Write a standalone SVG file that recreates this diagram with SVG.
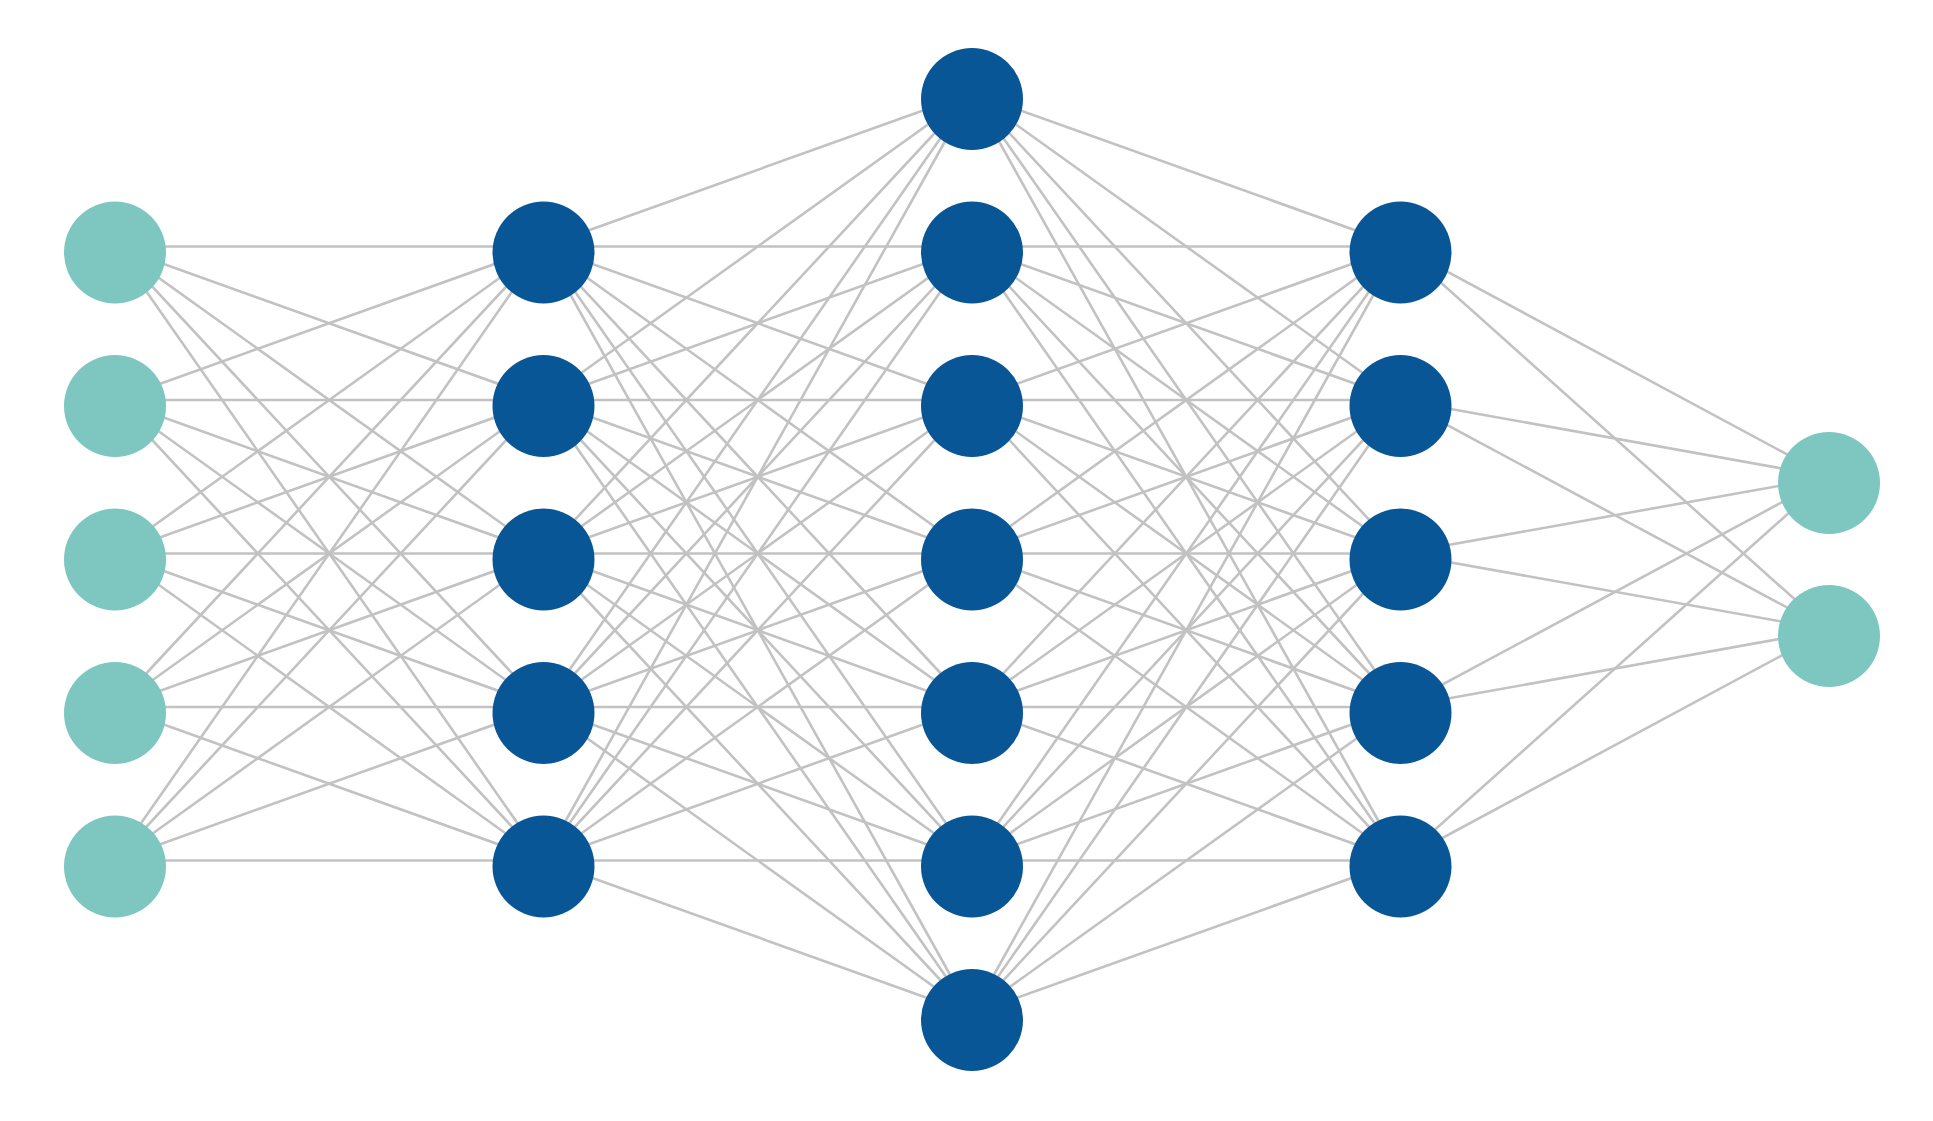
<svg xmlns="http://www.w3.org/2000/svg" width="1933" height="1121" viewBox="0 0 1933 1121">
<style>
.e{stroke:#c2c2c2;stroke-width:2.6;fill:none}
.io{fill:#7dc7c0}
.h{fill:#085696}
</style>
<rect width="1933" height="1121" fill="#ffffff"/>
<g id="connectors" class="e" transform="translate(0,-6)">
<line x1="115" y1="252.5" x2="543.5" y2="252.5"/><line x1="115" y1="252.5" x2="543.5" y2="406"/><line x1="115" y1="252.5" x2="543.5" y2="559.5"/><line x1="115" y1="252.5" x2="543.5" y2="713"/><line x1="115" y1="252.5" x2="543.5" y2="866.5"/>
<line x1="115" y1="406" x2="543.5" y2="252.5"/><line x1="115" y1="406" x2="543.5" y2="406"/><line x1="115" y1="406" x2="543.5" y2="559.5"/><line x1="115" y1="406" x2="543.5" y2="713"/><line x1="115" y1="406" x2="543.5" y2="866.5"/>
<line x1="115" y1="559.5" x2="543.5" y2="252.5"/><line x1="115" y1="559.5" x2="543.5" y2="406"/><line x1="115" y1="559.5" x2="543.5" y2="559.5"/><line x1="115" y1="559.5" x2="543.5" y2="713"/><line x1="115" y1="559.5" x2="543.5" y2="866.5"/>
<line x1="115" y1="713" x2="543.5" y2="252.5"/><line x1="115" y1="713" x2="543.5" y2="406"/><line x1="115" y1="713" x2="543.5" y2="559.5"/><line x1="115" y1="713" x2="543.5" y2="713"/><line x1="115" y1="713" x2="543.5" y2="866.5"/>
<line x1="115" y1="866.5" x2="543.5" y2="252.5"/><line x1="115" y1="866.5" x2="543.5" y2="406"/><line x1="115" y1="866.5" x2="543.5" y2="559.5"/><line x1="115" y1="866.5" x2="543.5" y2="713"/><line x1="115" y1="866.5" x2="543.5" y2="866.5"/>

<line x1="543.5" y1="252.5" x2="972" y2="99"/><line x1="543.5" y1="252.5" x2="972" y2="252.5"/><line x1="543.5" y1="252.5" x2="972" y2="406"/><line x1="543.5" y1="252.5" x2="972" y2="559.5"/><line x1="543.5" y1="252.5" x2="972" y2="713"/><line x1="543.5" y1="252.5" x2="972" y2="866.5"/><line x1="543.5" y1="252.5" x2="972" y2="1020"/>
<line x1="543.5" y1="406" x2="972" y2="99"/><line x1="543.5" y1="406" x2="972" y2="252.5"/><line x1="543.5" y1="406" x2="972" y2="406"/><line x1="543.5" y1="406" x2="972" y2="559.5"/><line x1="543.5" y1="406" x2="972" y2="713"/><line x1="543.5" y1="406" x2="972" y2="866.5"/><line x1="543.5" y1="406" x2="972" y2="1020"/>
<line x1="543.5" y1="559.5" x2="972" y2="99"/><line x1="543.5" y1="559.5" x2="972" y2="252.5"/><line x1="543.5" y1="559.5" x2="972" y2="406"/><line x1="543.5" y1="559.5" x2="972" y2="559.5"/><line x1="543.5" y1="559.5" x2="972" y2="713"/><line x1="543.5" y1="559.5" x2="972" y2="866.5"/><line x1="543.5" y1="559.5" x2="972" y2="1020"/>
<line x1="543.5" y1="713" x2="972" y2="99"/><line x1="543.5" y1="713" x2="972" y2="252.5"/><line x1="543.5" y1="713" x2="972" y2="406"/><line x1="543.5" y1="713" x2="972" y2="559.5"/><line x1="543.5" y1="713" x2="972" y2="713"/><line x1="543.5" y1="713" x2="972" y2="866.5"/><line x1="543.5" y1="713" x2="972" y2="1020"/>
<line x1="543.5" y1="866.5" x2="972" y2="99"/><line x1="543.5" y1="866.5" x2="972" y2="252.5"/><line x1="543.5" y1="866.5" x2="972" y2="406"/><line x1="543.5" y1="866.5" x2="972" y2="559.5"/><line x1="543.5" y1="866.5" x2="972" y2="713"/><line x1="543.5" y1="866.5" x2="972" y2="866.5"/><line x1="543.5" y1="866.5" x2="972" y2="1020"/>

<line x1="1400.5" y1="252.5" x2="972" y2="99"/><line x1="1400.5" y1="252.5" x2="972" y2="252.5"/><line x1="1400.5" y1="252.5" x2="972" y2="406"/><line x1="1400.5" y1="252.5" x2="972" y2="559.5"/><line x1="1400.5" y1="252.5" x2="972" y2="713"/><line x1="1400.5" y1="252.5" x2="972" y2="866.5"/><line x1="1400.5" y1="252.5" x2="972" y2="1020"/>
<line x1="1400.5" y1="406" x2="972" y2="99"/><line x1="1400.5" y1="406" x2="972" y2="252.5"/><line x1="1400.5" y1="406" x2="972" y2="406"/><line x1="1400.5" y1="406" x2="972" y2="559.5"/><line x1="1400.5" y1="406" x2="972" y2="713"/><line x1="1400.5" y1="406" x2="972" y2="866.5"/><line x1="1400.5" y1="406" x2="972" y2="1020"/>
<line x1="1400.5" y1="559.5" x2="972" y2="99"/><line x1="1400.5" y1="559.5" x2="972" y2="252.5"/><line x1="1400.5" y1="559.5" x2="972" y2="406"/><line x1="1400.5" y1="559.5" x2="972" y2="559.5"/><line x1="1400.5" y1="559.5" x2="972" y2="713"/><line x1="1400.5" y1="559.5" x2="972" y2="866.5"/><line x1="1400.5" y1="559.5" x2="972" y2="1020"/>
<line x1="1400.5" y1="713" x2="972" y2="99"/><line x1="1400.5" y1="713" x2="972" y2="252.5"/><line x1="1400.5" y1="713" x2="972" y2="406"/><line x1="1400.5" y1="713" x2="972" y2="559.5"/><line x1="1400.5" y1="713" x2="972" y2="713"/><line x1="1400.5" y1="713" x2="972" y2="866.5"/><line x1="1400.5" y1="713" x2="972" y2="1020"/>
<line x1="1400.5" y1="866.5" x2="972" y2="99"/><line x1="1400.5" y1="866.5" x2="972" y2="252.5"/><line x1="1400.5" y1="866.5" x2="972" y2="406"/><line x1="1400.5" y1="866.5" x2="972" y2="559.5"/><line x1="1400.5" y1="866.5" x2="972" y2="713"/><line x1="1400.5" y1="866.5" x2="972" y2="866.5"/><line x1="1400.5" y1="866.5" x2="972" y2="1020"/>

<line x1="1400.5" y1="252.5" x2="1829" y2="483"/><line x1="1400.5" y1="252.5" x2="1829" y2="636"/>
<line x1="1400.5" y1="406" x2="1829" y2="483"/><line x1="1400.5" y1="406" x2="1829" y2="636"/>
<line x1="1400.5" y1="559.5" x2="1829" y2="483"/><line x1="1400.5" y1="559.5" x2="1829" y2="636"/>
<line x1="1400.5" y1="713" x2="1829" y2="483"/><line x1="1400.5" y1="713" x2="1829" y2="636"/>
<line x1="1400.5" y1="866.5" x2="1829" y2="483"/><line x1="1400.5" y1="866.5" x2="1829" y2="636"/>
</g>
<g id="input-layer">
<circle id="in1" class="io" cx="115" cy="252.5" r="51"/>
<circle id="in2" class="io" cx="115" cy="406" r="51"/>
<circle id="in3" class="io" cx="115" cy="559.5" r="51"/>
<circle id="in4" class="io" cx="115" cy="713" r="51"/>
<circle id="in5" class="io" cx="115" cy="866.5" r="51"/>
</g>
<g id="hidden-layer-1">
<circle id="h1a" class="h" cx="543.5" cy="252.5" r="51"/>
<circle id="h1b" class="h" cx="543.5" cy="406" r="51"/>
<circle id="h1c" class="h" cx="543.5" cy="559.5" r="51"/>
<circle id="h1d" class="h" cx="543.5" cy="713" r="51"/>
<circle id="h1e" class="h" cx="543.5" cy="866.5" r="51"/>
</g>
<g id="hidden-layer-2">
<circle id="h2a" class="h" cx="972" cy="99" r="51"/>
<circle id="h2b" class="h" cx="972" cy="252.5" r="51"/>
<circle id="h2c" class="h" cx="972" cy="406" r="51"/>
<circle id="h2d" class="h" cx="972" cy="559.5" r="51"/>
<circle id="h2e" class="h" cx="972" cy="713" r="51"/>
<circle id="h2f" class="h" cx="972" cy="866.5" r="51"/>
<circle id="h2g" class="h" cx="972" cy="1020" r="51"/>
</g>
<g id="hidden-layer-3">
<circle id="h3a" class="h" cx="1400.5" cy="252.5" r="51"/>
<circle id="h3b" class="h" cx="1400.5" cy="406" r="51"/>
<circle id="h3c" class="h" cx="1400.5" cy="559.5" r="51"/>
<circle id="h3d" class="h" cx="1400.5" cy="713" r="51"/>
<circle id="h3e" class="h" cx="1400.5" cy="866.5" r="51"/>
</g>
<g id="output-layer">
<circle id="out1" class="io" cx="1829" cy="483" r="51"/>
<circle id="out2" class="io" cx="1829" cy="636" r="51"/>
</g>
</svg>
